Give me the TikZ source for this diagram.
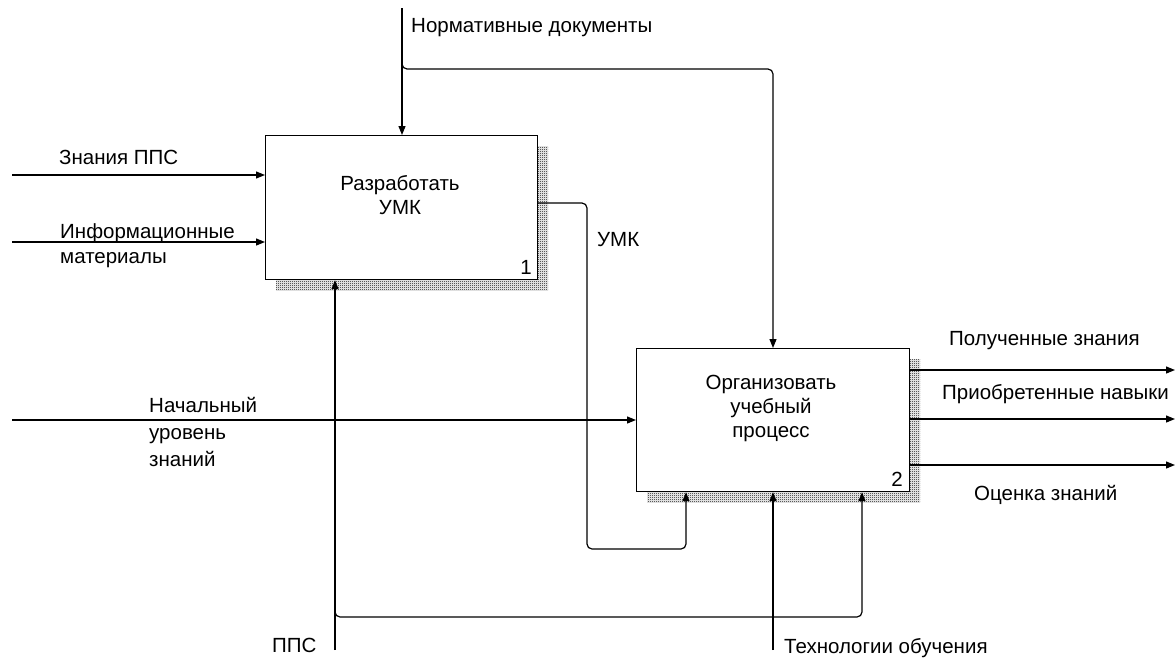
\documentclass[tikz,border=0pt]{standalone}
\usepackage{fontspec}
\setmainfont{Liberation Sans}
\usetikzlibrary{arrows.meta,patterns}
\pgfdeclarepatternformonly{idefcheck}{\pgfpointorigin}{\pgfpoint{2pt}{2pt}}{\pgfpoint{2pt}{2pt}}{%
  \pgfpathrectangle{\pgfpointorigin}{\pgfpoint{1pt}{1pt}}%
  \pgfpathrectangle{\pgfpoint{1pt}{1pt}}{\pgfpoint{1pt}{1pt}}%
  \pgfusepath{fill}}
\begin{document}
\begin{tikzpicture}[x=1pt,y=-1pt,
  font=\fontsize{20.5}{24}\selectfont,
  lw/.style={line width=1.2pt},
  box/.style={draw,lw,fill=white,minimum width=#1,inner sep=0pt,anchor=north west},
  shadowbox/.style={pattern=idefcheck,pattern color=black,draw=none},
  arr/.style={lw,-{Triangle[length=9pt,width=7pt]}},
  conn/.style={lw,rounded corners=5pt},
  lbl/.style={inner sep=0pt,anchor=west,align=left},
  ctext/.style={inner sep=0pt,align=center}]
\useasboundingbox (0,0) rectangle (1176,664);

% shadows
\fill[shadowbox] (276,146) rectangle (548,290);
\fill[shadowbox] (647,359) rectangle (920,502);

% boxes
\node[box=272pt,minimum height=144pt] (b1) at (265,135) {};
\node[box=273pt,minimum height=143pt] (b2) at (636,348) {};

\node[ctext] (t1) at (400,195) {Разработать\\УМК};
\node[ctext] (t2) at (771,408) {Организовать\\учебный\\процесс};
\node[inner sep=0pt] (n1) at (526,267) {1};
\node[inner sep=0pt] (n2) at (897,479) {2};

% free ends
\coordinate (inA) at (12,175);
\coordinate (inB) at (12,242);
\coordinate (inC) at (12,420);
\coordinate (ctop) at (402,8);
\coordinate (cj) at (402,62);
\coordinate (mppc) at (335,650);
\coordinate (mj) at (335,610);
\coordinate (mtech) at (773,650);
\coordinate (oA) at (1175,370);
\coordinate (oB) at (1175,419);
\coordinate (oC) at (1175,465);

% inputs
\draw[arr] (inA) -- (inA -| b1.west);
\draw[arr] (inB) -- (inB -| b1.west);
\draw[arr] (inC) -- (inC -| b2.west);

% control
\draw[arr] (ctop) -- (ctop |- b1.north);
\draw[arr,conn] (cj) -- (402,69) -- (773,69) -- (773,69 |- b2.north);

% UMK
\draw[arr,conn] (b1.east |- 0,203) -- (587,203) -- (587,549) -- (686,549) -- (686,549 |- b2.south);

% mechanisms
\draw[arr] (mppc) -- (mppc |- b1.south);
\draw[arr,conn] (mj) -- (335,617) -- (862,617) -- (862,617 |- b2.south);
\draw[arr] (mtech) -- (mtech |- b2.south);

% outputs
\draw[arr] (b2.east |- oA) -- (oA);
\draw[arr] (b2.east |- oB) -- (oB);
\draw[arr] (b2.east |- oC) -- (oC);

% labels
\node[lbl] (lnd) at (411,28) {Нормативные документы};
\node[lbl] (lzn) at (59,157) {Знания ППС};
\node[lbl,font=\fontsize{20.5}{25}\selectfont] (lim) at (60,245.5) {Информационные\\материалы};
\node[lbl] (lumk) at (597,240) {УМК};
\node[lbl,font=\fontsize{20.5}{27}\selectfont] (lnu) at (149,432) {Начальный\\уровень\\знаний};
\node[lbl] (lpz) at (949,341) {Полученные знания};
\node[lbl] (lpn) at (942,394) {Приобретенные навыки};
\node[lbl] (loz) at (974,495) {Оценка знаний};
\node[lbl] (lpps) at (272,645) {ППС};
\node[lbl] (lto) at (784,648) {Технологии обучения};
\end{tikzpicture}
\end{document}
